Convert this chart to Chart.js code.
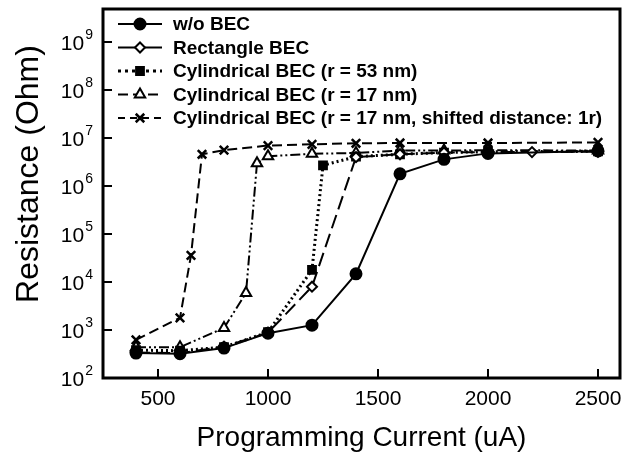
<!DOCTYPE html>
<html>
<head>
<meta charset="utf-8">
<title>Resistance vs Programming Current</title>
<script src="https://cdn.jsdelivr.net/npm/chart.js@4.4.1/dist/chart.umd.min.js"></script>
<style>
  body { margin: 0; background: #fff; }
  #wrap { position: relative; width: 636px; height: 455px; }
</style>
</head>
<body>
<div id="wrap"><canvas id="resChart"></canvas></div>
<script>
// series names
const seriesNames = [
  'w/o BEC',
  'Rectangle BEC',
  'Cylindrical BEC (r = 53 nm)',
  'Cylindrical BEC (r = 17 nm)',
  'Cylindrical BEC (r = 17 nm, shifted distance: 1r)'
];

// programming current (uA) and resistance (Ohm) per series
const woCurrent = [400, 600, 800, 1000, 1200, 1400, 1600, 1800, 2000, 2500];
const woRes = [330, 320, 420, 860, 1260, 14800, 1.8e6, 3.6e6, 4.8e6, 5.4e6];

const rectCurrent = [400, 600, 800, 1000, 1200, 1400, 1600, 1800, 2000, 2200, 2500];
const rectRes = [340, 330, 450, 880, 8000, 4.0e6, 4.6e6, 5.0e6, 5.1e6, 5.1e6, 5.2e6];

const cyl53Current = [400, 600, 800, 1000, 1200, 1250, 1400, 1600, 1800, 2000, 2500];
const cyl53Res = [380, 370, 440, 900, 1.8e4, 2.7e6, 4.1e6, 4.6e6, 5.0e6, 5.2e6, 5.3e6];

const cyl17Current = [400, 600, 800, 900, 950, 1000, 1200, 1400, 1600, 1800, 2000, 2500];
const cyl17Res = [440, 440, 1100, 5900, 3.0e6, 4.2e6, 4.7e6, 4.9e6, 5.5e6, 5.5e6, 5.6e6, 5.5e6];

const shiftCurrent = [400, 600, 650, 700, 800, 1000, 1200, 1400, 1600, 2000, 2500];
const shiftRes = [620, 1800, 3.6e4, 4.6e6, 5.6e6, 7.0e6, 7.4e6, 7.8e6, 7.9e6, 7.9e6, 8.1e6];

// axis ticks
const xTicks = [500, 1000, 1500, 2000, 2500];
const yTicks = [1e2, 1e3, 1e4, 1e5, 1e6, 1e7, 1e8, 1e9];

const FONT = "'Liberation Sans', Arial, Helvetica, sans-serif";

function pts(xs, ys) {
  return xs.map((x, i) => ({ x: x, y: ys[i] }));
}

// black frame, inward tick marks, 10^n labels, y title and the line+marker legend
const framePlugin = {
  id: 'frame',
  afterDraw(chart) {
    const ctx = chart.ctx;
    const a = chart.chartArea;
    const xs = chart.scales.x, ys = chart.scales.y;
    ctx.save();
    ctx.setLineDash([]);
    ctx.strokeStyle = '#000';
    ctx.lineWidth = 2;
    ctx.beginPath();
    xTicks.forEach(v => {
      const px = xs.getPixelForValue(v);
      ctx.moveTo(px, a.bottom);
      ctx.lineTo(px, a.bottom - 9);
    });
    yTicks.forEach(v => {
      const py = ys.getPixelForValue(v);
      ctx.moveTo(a.left, py);
      ctx.lineTo(a.left + 9, py);
    });
    ctx.stroke();
    ctx.lineWidth = 3;
    ctx.beginPath();
    ctx.rect(a.left, a.top, a.right - a.left, a.bottom - a.top);
    ctx.stroke();

    // y tick labels with raised exponent
    ctx.fillStyle = '#000';
    ctx.textAlign = 'left';
    ctx.textBaseline = 'alphabetic';
    yTicks.forEach(v => {
      const py = ys.getPixelForValue(v);
      const exp = String(Math.round(Math.log10(v)));
      ctx.font = '21px ' + FONT;
      const w = ctx.measureText('10').width;
      ctx.font = '14px ' + FONT;
      const e = ctx.measureText(exp).width;
      const x0 = a.left - 11 - w - e;
      ctx.font = '21px ' + FONT;
      ctx.fillText('10', x0, py + 8);
      ctx.font = '14px ' + FONT;
      ctx.fillText(exp, x0 + w + 1, py - 3);
    });

    // y axis title
    ctx.font = '32px ' + FONT;
    ctx.textAlign = 'center';
    ctx.textBaseline = 'middle';
    ctx.translate(29, 174);
    ctx.rotate(-Math.PI / 2);
    ctx.fillText('Resistance (Ohm)', 0, 0);
    ctx.restore();

    // legend
    ctx.save();
    ctx.font = 'bold 19px ' + FONT;
    ctx.textBaseline = 'middle';
    ctx.textAlign = 'left';
    chart.data.datasets.forEach((ds, i) => {
      const y = 24 + i * 23.5;
      ctx.strokeStyle = '#000';
      ctx.lineWidth = ds.borderWidth;
      ctx.setLineDash(ds.legendDash);
      ctx.beginPath();
      ctx.moveTo(118, y);
      ctx.lineTo(162, y);
      ctx.stroke();
      ctx.setLineDash([]);
      ctx.fillStyle = ds.pointBackgroundColor;
      ctx.lineWidth = ds.pointBorderWidth;
      Chart.helpers.drawPoint(ctx, {
        pointStyle: ds.pointStyle,
        radius: ds.pointRadius,
        rotation: 0,
        borderWidth: ds.pointBorderWidth
      }, 140, y);
      ctx.fillStyle = '#000';
      ctx.fillText(ds.label, 173, y + 1);
    });
    ctx.restore();
  }
};

function series(name, xs, ys, opts) {
  return Object.assign({
    label: name,
    data: pts(xs, ys),
    borderColor: '#000',
    borderWidth: 2,
    pointBorderColor: '#000',
    pointBorderWidth: 2,
    pointBackgroundColor: '#000',
    pointRadius: 5,
    tension: 0,
    fill: false
  }, opts);
}

const datasets = [
  series(seriesNames[4], shiftCurrent, shiftRes, {
    borderDash: [10, 5], legendDash: [7, 5],
    pointStyle: 'crossRot', pointRadius: 6, pointBorderWidth: 2.5
  }),
  series(seriesNames[3], cyl17Current, cyl17Res, {
    borderDash: [10, 3, 2, 3, 2, 3], legendDash: [10, 5],
    pointStyle: 'triangle', pointRadius: 6, pointBackgroundColor: '#fff'
  }),
  series(seriesNames[2], cyl53Current, cyl53Res, {
    borderDash: [2, 3], legendDash: [3, 4], borderWidth: 3,
    pointStyle: 'rect', pointRadius: 5.5
  }),
  series(seriesNames[1], rectCurrent, rectRes, {
    borderDash: [14, 6], legendDash: [],
    pointStyle: 'rectRot', pointRadius: 5, pointBackgroundColor: '#fff'
  }),
  series(seriesNames[0], woCurrent, woRes, {
    legendDash: [],
    pointStyle: 'circle', pointRadius: 5.5
  })
].reverse();

new Chart(document.getElementById('resChart'), {
  type: 'line',
  data: { datasets: datasets },
  options: {
    responsive: true,
    maintainAspectRatio: false,
    animation: false,
    layout: { padding: { left: 0, right: 16, top: 9, bottom: 0 } },
    plugins: {
      legend: { display: false },
      tooltip: { enabled: false }
    },
    scales: {
      x: {
        type: 'linear',
        min: 250,
        max: 2600,
        afterBuildTicks: s => { s.ticks = xTicks.map(v => ({ value: v })); },
        afterFit: s => { s.height = 77; s.paddingLeft = 0; s.paddingRight = 0; },
        grid: { display: false, drawTicks: false },
        border: { display: false },
        ticks: {
          color: '#000',
          padding: 9,
          font: { family: FONT, size: 21 },
          callback: v => String(v)
        },
        title: {
          display: true,
          text: 'Programming Current (uA)',
          color: '#000',
          padding: { top: 0, bottom: 0 },
          font: { family: FONT, size: 28 }
        }
      },
      y: {
        type: 'logarithmic',
        min: 100,
        max: 4.9e9,
        afterBuildTicks: s => { s.ticks = yTicks.map(v => ({ value: v })); },
        afterFit: s => { s.width = 103; s.paddingTop = 0; s.paddingBottom = 0; },
        grid: { display: false, drawTicks: false },
        border: { display: false },
        ticks: { display: false }
      }
    }
  },
  plugins: [framePlugin]
});
</script>
</body>
</html>
